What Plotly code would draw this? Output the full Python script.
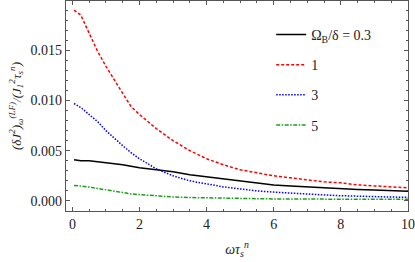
import plotly.graph_objects as go

x = [0.05, 0.25, 0.5, 0.75, 1.0, 1.25, 1.5, 1.75, 2.0, 2.5, 3.0, 3.5, 4.0, 4.5,
     5.0, 5.5, 6.0, 6.5, 7.0, 7.5, 8.0, 8.5, 9.0, 9.5, 10.0]

y_03 = [0.0041, 0.0040, 0.0040, 0.0039, 0.0038, 0.00375, 0.0036, 0.00345, 0.0033,
        0.0031, 0.0029, 0.0026, 0.0024, 0.0022, 0.0020, 0.0018, 0.0016, 0.0015,
        0.0014, 0.00132, 0.00122, 0.00115, 0.00108, 0.00102, 0.00096]
y_1 = [0.0190, 0.0185, 0.0167, 0.0149, 0.0134, 0.0120, 0.0107, 0.0094, 0.0086,
       0.0072, 0.0060, 0.0050, 0.0042, 0.0036, 0.0031, 0.0028, 0.0025, 0.0023,
       0.0021, 0.0019, 0.0018, 0.0016, 0.0015, 0.0014, 0.0013]
y_3 = [0.0097, 0.0093, 0.0086, 0.0079, 0.0070, 0.0062, 0.0055, 0.0048, 0.0042,
       0.0032, 0.0025, 0.0020, 0.0017, 0.0014, 0.0012, 0.00100, 0.00088, 0.00077,
       0.00068, 0.00060, 0.00052, 0.00046, 0.00042, 0.00039, 0.00036]
y_5 = [0.00153, 0.0015, 0.00138, 0.00123, 0.0011, 0.00095, 0.0008, 0.0007, 0.00063,
       0.0005, 0.0004, 0.00034, 0.0003, 0.00026, 0.00024, 0.00022, 0.0002, 0.00019,
       0.00018, 0.00018, 0.00017, 0.00017, 0.00016, 0.00016, 0.00016]

names = ["Ω<sub>B</sub>/δ = 0.3", "1", "3", "5"]
series = [y_03, y_1, y_3, y_5]
colors = ["black", "red", "blue", "#1a9e1a"]
dashes = ["solid", "3px,2px", "1.5px,1.5px", "4px,1.5px,1.5px,1.5px"]

fig = go.Figure()
for i, (nm, ys, c, d) in enumerate(zip(names, series, colors, dashes)):
    fig.add_trace(go.Scatter(x=x, y=ys, mode="lines", name=nm, legendgroup=str(i),
                             line=dict(color=c, width=1.5, dash=d)))

FAM = "Liberation Serif, serif"
font = dict(family=FAM, size=14, color="#222")
axcommon = dict(showline=True, linecolor="#555", linewidth=1.2, mirror="ticks",
                ticks="inside", ticklen=4, tickcolor="#555", showgrid=False,
                zeroline=False, tickfont=font, ticklabeloverflow="allow")

fig.update_layout(
    template="none",
    width=415, height=262,
    margin=dict(l=66, r=7, t=1, b=51),
    paper_bgcolor="white", plot_bgcolor="white",
    font=font,
    showlegend=True,
    legend=dict(x=0.6, y=0.915, xanchor="left", yanchor="top",
                bgcolor="rgba(0,0,0,0)", tracegroupgap=9,
                font=dict(family=FAM, size=14, color="#222")),
    xaxis=dict(range=[-0.19, 10.001], tickvals=[0, 2, 4, 6, 8, 10],
               minor=dict(dtick=0.5, ticks="inside", ticklen=2, tickcolor="#555"),
               title=dict(text="<i>ωτ<sub>s</sub><sup>n</sup></i>", standoff=13,
                          font=dict(family=FAM, size=14)),
               **axcommon),
    yaxis=dict(range=[-0.001, 0.0199], tickvals=[0, 0.005, 0.01, 0.015],
               ticktext=["0.000", "0.005", "0.010", "0.015"],
               minor=dict(dtick=0.001, ticks="inside", ticklen=2, tickcolor="#555"),
               title=dict(text="<i>(δJ<sup>2</sup>)<sub>ω</sub><sup>(LF)</sup>/(J<sub>1</sub><sup>2</sup>τ<sub>s</sub><sup>n</sup>)</i>",
                          standoff=6,
                          font=dict(family=FAM, size=13)),
               **axcommon),
)

fig.write_html("out.html", config={"displayModeBar": False},
               post_script="document.body.style.margin='0';document.body.style.padding='0';")
